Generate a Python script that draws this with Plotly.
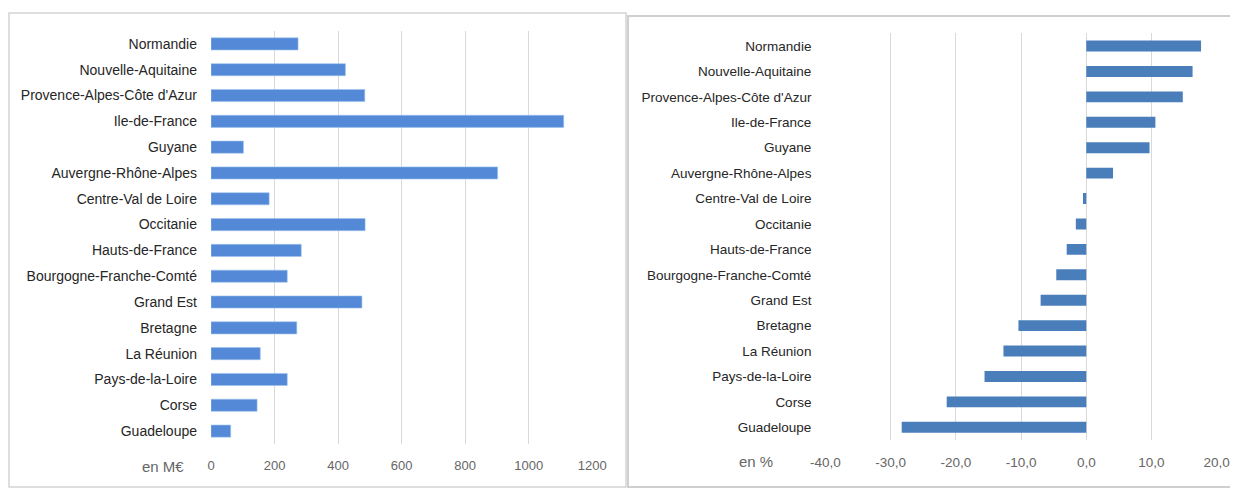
import plotly.graph_objects as go

W, H = 1238, 488
OFF = 8  # page body margin shifts the figure by 8px

regions_left = ["Normandie", "Nouvelle-Aquitaine", "Provence-Alpes-Côte d'Azur", "Ile-de-France",
                "Guyane", "Auvergne-Rhône-Alpes", "Centre-Val de Loire", "Occitanie",
                "Hauts-de-France", "Bourgogne-Franche-Comté", "Grand Est", "Bretagne",
                "La Réunion", "Pays-de-la-Loire", "Corse", "Guadeloupe"]
values_meur = [274, 423, 484, 1110, 102, 902, 183, 485, 284, 240, 475, 270, 155, 240, 145, 62]

regions_right = regions_left
values_pct = [17.6, 16.3, 14.8, 10.6, 9.7, 4.1, -0.5, -1.6, -3.0, -4.6, -7.0, -10.4, -12.7, -15.6, -21.4, -28.3]

left_ticks = [0, 200, 400, 600, 800, 1000, 1200]
right_ticks = [-40, -30, -20, -10, 0, 10, 20]
right_ticktext = ["-40,0", "-30,0", "-20,0", "-10,0", "0,0", "10,0", "20,0"]

def px_x(p):
    return (p - OFF) / W

def px_y(p):
    return 1 - (p - OFF) / H

FONT = "Liberation Sans, Arial, sans-serif"
CAT_COLOR = "#262626"
TICK_COLOR = "#666666"
GRID = "#d9d9d9"

fig = go.Figure()
fig.add_trace(go.Bar(x=values_meur, y=regions_left, orientation="h",
                     marker=dict(color="#5389d6", line=dict(color="#9cc3ee", width=0.6)),
                     width=0.47, xaxis="x", yaxis="y", showlegend=False))
fig.add_trace(go.Bar(x=values_pct, y=regions_right, orientation="h",
                     marker=dict(color="#4a7ebb", line=dict(width=0)),
                     width=0.43, xaxis="x2", yaxis="y2", showlegend=False))

fig.update_layout(
    template="none",
    width=W, height=H,
    margin=dict(l=0, r=0, t=0, b=0, pad=0),
    paper_bgcolor="white", plot_bgcolor="white",
    font=dict(family=FONT),
    xaxis=dict(domain=[px_x(211), px_x(592.3)], range=[0, 1200], tickvals=left_ticks,
               showgrid=True, gridcolor=GRID, gridwidth=1, zeroline=False, showline=False,
               ticks="", ticklabelstandoff=12, tickfont=dict(size=13, color=TICK_COLOR),
               anchor="y", fixedrange=True, automargin=False),
    yaxis=dict(domain=[px_y(444), px_y(31)], categoryorder="array", categoryarray=regions_left,
               autorange="reversed", showgrid=False, zeroline=False, showline=False,
               ticks="", ticklabelstandoff=13, tickfont=dict(size=14, color=CAT_COLOR),
               anchor="x", automargin=False),
    xaxis2=dict(domain=[px_x(825.4), px_x(1216.7)], range=[-40, 20], tickvals=right_ticks,
                ticktext=right_ticktext,
                showgrid=True, gridcolor=GRID, gridwidth=1, zeroline=False, showline=False,
                ticks="", ticklabelstandoff=12, tickfont=dict(size=13.5, color=TICK_COLOR),
                anchor="y2", fixedrange=True, automargin=False),
    yaxis2=dict(domain=[px_y(440), px_y(33.3)], categoryorder="array", categoryarray=regions_right,
                autorange="reversed", showgrid=False, zeroline=False, showline=False,
                ticks="", ticklabelstandoff=13, tickfont=dict(size=13.5, color=CAT_COLOR),
                anchor="x2", automargin=False),
)

fig.add_annotation(x=px_x(163), y=px_y(466), xref="paper", yref="paper", text="en M€",
                   showarrow=False, font=dict(size=15, color=TICK_COLOR), xanchor="center", yanchor="middle")
fig.add_annotation(x=px_x(756), y=px_y(461), xref="paper", yref="paper", text="en %",
                   showarrow=False, font=dict(size=15, color=TICK_COLOR), xanchor="center", yanchor="middle")

# panel borders
fig.add_shape(type="rect", xref="paper", yref="paper",
              x0=px_x(9), x1=px_x(626), y0=px_y(487), y1=px_y(13),
              line=dict(color="#d4d4d4", width=1.5), fillcolor="rgba(0,0,0,0)", layer="below")
fig.add_shape(type="rect", xref="paper", yref="paper",
              x0=px_x(628), x1=px_x(1260), y0=px_y(487), y1=px_y(16),
              line=dict(color="#cfcfcf", width=2), fillcolor="rgba(0,0,0,0)", layer="below")

fig.write_html("out.html")
